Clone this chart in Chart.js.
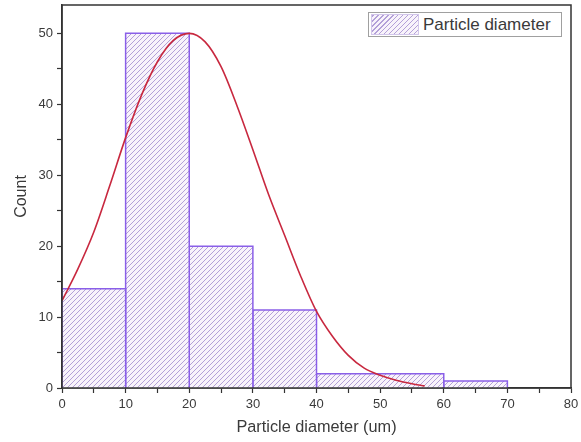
<!DOCTYPE html>
<html>
<head>
<meta charset="utf-8">
<script src="https://cdn.jsdelivr.net/npm/chart.js@4.4.1/dist/chart.umd.min.js"></script>
<style>
  html, body { margin: 0; padding: 0; background: #fff; }
  #wrap { position: relative; width: 581px; height: 442px; }
  #legend {
    position: absolute; left: 368px; top: 12px; height: 25px; width: 194px;
    border: 1px solid #a0a0a0; background: #fff; box-sizing: border-box;
    font-family: 'Liberation Sans', Arial, sans-serif; font-size: 17px; color: #3a3a3a;
  }
  #legend .sw {
    position: absolute; left: 3px; top: 2px; width: 46px; height: 19px;
    background: repeating-linear-gradient(-45deg, #f8f3fb 0px, #f8f3fb 2.4px, #b3a0d8 2.4px, #b3a0d8 3.5px);
    outline: 1px solid #d2c6ea;
  }
  #legend .tx { position: absolute; left: 54px; top: 2px; line-height: 20px; white-space: nowrap; }
</style>
</head>
<body>
<div id="wrap">
  <canvas id="chart" width="581" height="442"></canvas>
  <div id="legend"><span class="sw"></span><span class="tx" id="legendText"></span></div>
</div>
<script>
// histogram bins (um) and counts
const binStart = [0, 10, 20, 30, 40, 60];
const binEnd   = [10, 20, 30, 40, 60, 70];
const counts   = [14, 50, 20, 11, 2, 1];

// fitted distribution curve
const curveX = [0, 2.5, 5, 7.5, 10, 12.5, 15, 17.5, 20, 22.5, 25, 27.5, 30, 32.5, 35, 37.5, 40, 42.5, 45, 47.5, 50, 52.5, 55, 57];
const curveY = [12.3, 16.8, 22.0, 28.5, 35.3, 41.3, 46.0, 49.0, 50.0, 48.8, 45.3, 39.8, 33.6, 27.2, 21.5, 15.8, 10.8, 7.3, 4.6, 2.8, 1.8, 1.1, 0.6, 0.3];

const seriesName = "Particle diameter";
const xTitle = "Particle diameter (um)";
const yTitle = "Count";

const FONT = "'Liberation Sans', Arial, sans-serif";
const TEXT = "#3a3a3a";

document.getElementById("legendText").textContent = seriesName;

// hatch pattern "///"
function makeHatch() {
  const s = 5;
  const c = document.createElement("canvas");
  c.width = s; c.height = s;
  const g = c.getContext("2d");
  g.fillStyle = "#f8f3fb";
  g.fillRect(0, 0, s, s);
  g.strokeStyle = "#b3a0d8";
  g.lineWidth = 1;
  g.beginPath();
  g.moveTo(0, s); g.lineTo(s, 0);
  g.moveTo(-1, 1); g.lineTo(1, -1);
  g.moveTo(s - 1, s + 1); g.lineTo(s + 1, s - 1);
  g.stroke();
  return g.createPattern(c, "repeat");
}
const hatch = makeHatch();

// one closed outline per bin
const datasets = [];
for (let i = 0; i < counts.length; i++) {
  datasets.push({
    type: "line",
    label: seriesName,
    data: [
      { x: binStart[i], y: 0 },
      { x: binStart[i], y: counts[i] },
      { x: binEnd[i], y: counts[i] },
      { x: binEnd[i], y: 0 }
    ],
    borderColor: "#8a5fe8",
    borderWidth: 1.5,
    backgroundColor: hatch,
    fill: "origin",
    tension: 0,
    pointRadius: 0,
    order: 2
  });
}

// fitted curve on top
datasets.push({
  type: "line",
  label: "fit",
  data: curveX.map((x, i) => ({ x: x, y: curveY[i] })),
  borderColor: "#c8283f",
  borderWidth: 1.6,
  fill: false,
  cubicInterpolationMode: "monotone",
  pointRadius: 0,
  order: 0
});

// frame around plot area
const framePlugin = {
  id: "frame",
  afterDraw(chart) {
    const ctx = chart.ctx;
    const a = chart.chartArea;
    ctx.save();
    ctx.strokeStyle = "#333";
    ctx.lineWidth = 1.5;
    ctx.strokeRect(a.left, a.top, a.right - a.left, a.bottom - a.top);
    ctx.restore();
  }
};

new Chart(document.getElementById("chart"), {
  type: "line",
  data: { datasets: datasets },
  options: {
    responsive: false,
    animation: false,
    layout: { padding: { left: 10, right: 10, top: 5, bottom: 0 } },
    plugins: {
      tooltip: { enabled: false },
      legend: { display: false }
    },
    scales: {
      x: {
        type: "linear",
        min: 0,
        max: 80,
        afterFit(scale) { scale.height = 54; scale.paddingLeft = 0; scale.paddingRight = 0; },
        ticks: {
          stepSize: 5,
          padding: 4,
          maxRotation: 0,
          color: TEXT,
          font: { family: FONT, size: 13 },
          callback: v => (v % 10 === 0 ? v : "")
        },
        grid: { drawOnChartArea: false, drawTicks: true, tickLength: 5, tickColor: "#333", tickWidth: 1.2 },
        border: { display: true, color: "#333", width: 1.5 },
        title: { display: true, text: xTitle, color: TEXT, font: { family: FONT, size: 16.3 }, padding: { top: 0, bottom: 5 } }
      },
      y: {
        type: "linear",
        min: 0,
        max: 54,
        afterFit(scale) { scale.width = 52; scale.paddingTop = 0; scale.paddingBottom = 0; },
        afterBuildTicks(scale) { scale.ticks = scale.ticks.filter(t => t.value % 5 === 0); },
        ticks: {
          stepSize: 5,
          padding: 4,
          color: TEXT,
          font: { family: FONT, size: 13 },
          callback: v => (v % 10 === 0 ? v : "")
        },
        grid: { drawOnChartArea: false, drawTicks: true, tickLength: 5, tickColor: "#333", tickWidth: 1.2 },
        border: { display: true, color: "#333", width: 1.5 },
        title: { display: true, text: yTitle, color: TEXT, font: { family: FONT, size: 16 }, padding: { top: 2, bottom: 0 } }
      }
    }
  },
  plugins: [framePlugin]
});
</script>
</body>
</html>
